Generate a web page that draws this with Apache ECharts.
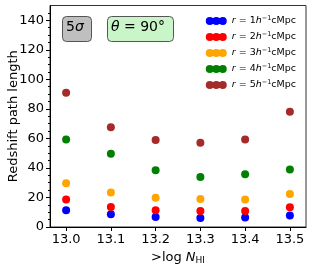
<!DOCTYPE html>
<html><head><meta charset="utf-8">
<script src="https://cdn.jsdelivr.net/npm/echarts@6/dist/echarts.min.js"></script>
<style>html,body{margin:0;padding:0;background:#fff}#c{width:314px;height:267px}</style>
</head><body><div id="c"></div>
<script>
const xValues = [13.0, 13.1, 13.2, 13.3, 13.4, 13.5];
const seriesNames = ['1', '2', '3', '4', '5'];
const seriesColors = ['#0000ff', '#ff0000', '#ffa500', '#008000', '#a52a2a'];
const r1 = [11.4, 8.7, 6.8, 6.1, 6.4, 7.8];
const r2 = [18.7, 13.6, 11.4, 10.9, 10.9, 13.4];
const r3 = [29.6, 23.4, 19.8, 18.9, 18.7, 22.3];
const r4 = [59.3, 49.6, 38.4, 33.9, 35.7, 38.9];
const r5 = [90.9, 67.5, 58.9, 57.1, 59.3, 78.0];
const allValues = [r1, r2, r3, r4, r5];
const yTicks = [0, 20, 40, 60, 80, 100, 120, 140];
const xTicks = ['13.0', '13.1', '13.2', '13.3', '13.4', '13.5'];

const font = 'DejaVu Sans';
const chart = echarts.init(document.getElementById('c'), null, {renderer: 'canvas'});
const dot3 = 'path://M0,4a4,4 0 1,0 8,0a4,4 0 1,0 -8,0M6.5,4a4,4 0 1,0 8,0a4,4 0 1,0 -8,0M13,4a4,4 0 1,0 8,0a4,4 0 1,0 -8,0';

chart.setOption({
  animation: false,
  textStyle: {fontFamily: font},
  grid: {left: 50, right: 8, top: 5.5, bottom: 40, show: true, borderColor: '#333', borderWidth: 1,
         containLabel: false, outerBoundsMode: 'none'},
  legend: {
    orient: 'vertical', right: 18, top: 15,
    itemWidth: 21, itemHeight: 8, itemGap: 4, padding: 0,
    icon: dot3,
    data: seriesNames.map(n => 'r' + n),
    formatter: function (name) {
      return '{i|r} = ' + name.slice(1) + '{i|h}{sup|−1}cMpc';
    },
    textStyle: {
      fontSize: 9.5, color: '#000', fontFamily: font, lineHeight: 12,
      rich: {
        i: {fontStyle: 'italic', fontSize: 9.5, fontFamily: font, lineHeight: 12},
        sup: {fontSize: 6.5, fontFamily: font, lineHeight: 12, padding: [0, 0, 5, 0]}
      }
    }
  },
  xAxis: {
    type: 'value', min: 12.964, max: 13.536,
    axisLine: {onZero: false, lineStyle: {color: '#000'}},
    axisTick: {show: true, length: 4, lineStyle: {color: '#000'}, customValues: xValues},
    axisLabel: {color: '#000', fontSize: 13, fontFamily: font, margin: 6,
      customValues: xValues, formatter: v => xTicks[xValues.indexOf(Math.round(v * 10) / 10)] },
    splitLine: {show: false},
    name: '>log {i|N}{sub|HI}',
    nameLocation: 'middle', nameGap: 23, nameMoveOverlap: false,
    nameTextStyle: {fontSize: 13, color: '#000', fontFamily: font,
      rich: {i: {fontStyle: 'italic', fontSize: 13, fontFamily: font},
             sub: {fontSize: 9, fontFamily: font, padding: [6, 0, 0, 0]}}}
  },
  yAxis: {
    type: 'value', min: 0, max: 150, interval: 20,
    axisLine: {show: true, lineStyle: {color: '#000'}},
    axisTick: {show: true, length: 4, lineStyle: {color: '#000'}, customValues: yTicks},
    minorTick: {show: true, splitNumber: 4, length: 2, lineStyle: {color: '#000'}},
    axisLabel: {color: '#000', fontSize: 13, fontFamily: font, margin: 6, customValues: yTicks},
    splitLine: {show: false},
    name: 'Redshift path length', nameLocation: 'middle', nameGap: 30, nameMoveOverlap: false,
    nameTextStyle: {fontSize: 13, color: '#000', fontFamily: font}
  },
  series: seriesNames.map((n, i) => ({
    name: 'r' + n, type: 'scatter', symbol: 'circle', symbolSize: 8,
    itemStyle: {color: seriesColors[i], opacity: 1},
    data: xValues.map((x, j) => [x, allValues[i][j]])
  })),
  graphic: [
    {type: 'rect', left: 62, top: 16, shape: {width: 29, height: 25, r: 4},
     style: {fill: '#bfbfbf', stroke: '#555', lineWidth: 1}},
    {type: 'text', left: 66, top: 20,
     style: {rich: {n: {fontSize: 14, fontFamily: font}, g: {fontSize: 14, fontFamily: font, fontStyle: 'italic'}},
       text: '{n|5}{g|σ}', fill: '#000'}},
    {type: 'rect', left: 107, top: 16, shape: {width: 66, height: 25, r: 4},
     style: {fill: '#c9f5c9', stroke: '#555', lineWidth: 1}},
    {type: 'text', left: 111, top: 20,
     style: {rich: {n: {fontSize: 14, fontFamily: font}, g: {fontSize: 14, fontFamily: font, fontStyle: 'italic'}},
       text: '{g|θ}{n| = 90°}', fill: '#000'}}
  ]
});
</script></body></html>
